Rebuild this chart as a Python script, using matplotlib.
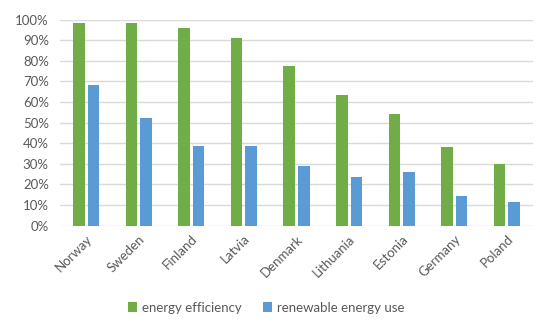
import numpy as np
import matplotlib
matplotlib.use("Agg")
import matplotlib.pyplot as plt
from matplotlib.ticker import PercentFormatter

# values (shares, 0..1)
countries = ["Norway", "Sweden", "Finland", "Latvia", "Denmark",
             "Lithuania", "Estonia", "Germany", "Poland"]
energy_efficiency = [0.985, 0.985, 0.958, 0.913, 0.774, 0.634, 0.541, 0.383, 0.300]
renewable_use = [0.681, 0.521, 0.387, 0.387, 0.290, 0.235, 0.261, 0.143, 0.115]
y_ticks = [0.0, 0.1, 0.2, 0.3, 0.4, 0.5, 0.6, 0.7, 0.8, 0.9, 1.0]

plt.rcParams['font.family'] = ['Lato', 'DejaVu Sans']

green = "#70AD47"
blue = "#5B9BD5"
grey_text = "#595959"

fig = plt.figure(figsize=(5.5, 3.28), dpi=100)
ax = fig.add_axes([0.109, 0.312, 0.86, 0.628])

x = np.arange(len(countries))
w = 0.22
gap = 0.057
ax.bar(x - (w + gap) / 2, energy_efficiency, w, color=green,
       label="energy efficiency", zorder=3)
ax.bar(x + (w + gap) / 2, renewable_use, w, color=blue,
       label="renewable energy use", zorder=3)

ax.set_xlim(-0.5, len(countries) - 0.5)
ax.set_ylim(0, 1.0)
ax.set_yticks(y_ticks)
ax.yaxis.set_major_formatter(PercentFormatter(1.0, decimals=0))
ax.grid(axis='y', color="#D9D9D9", linewidth=1, zorder=0)
for s in ax.spines.values():
    s.set_visible(False)
ax.tick_params(length=0, colors=grey_text, labelsize=9.5)
ax.tick_params(axis='y', pad=8)
ax.tick_params(axis='x', pad=5)
ax.set_xticks(x)
ax.set_xticklabels(countries, rotation=45, ha='right', rotation_mode='anchor')

leg = fig.legend(loc='center', bbox_to_anchor=(0.484, 0.062), ncol=2,
                 frameon=False, fontsize=9.5, handlelength=0.7,
                 handleheight=0.7, columnspacing=1.6, handletextpad=0.35)
for t in leg.get_texts():
    t.set_color(grey_text)

fig.savefig("out.png", dpi=100)
